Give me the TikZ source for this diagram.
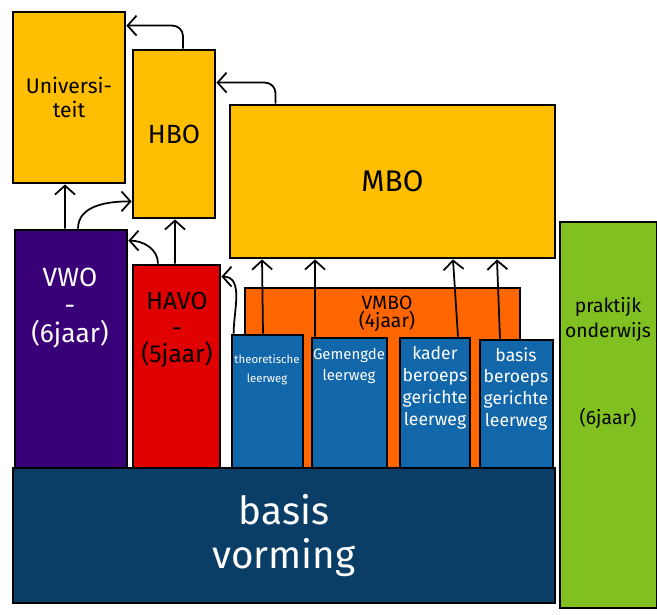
\documentclass[tikz,border=0pt]{standalone}
\usepackage{fontspec}
\setmainfont{Fira Sans}
\usetikzlibrary{arrows.meta}

\definecolor{geel}{RGB}{255,190,0}
\definecolor{paars}{RGB}{58,0,120}
\definecolor{rood}{RGB}{224,0,0}
\definecolor{oranje}{RGB}{255,102,0}
\definecolor{blauw}{RGB}{18,102,170}
\definecolor{donkerblauw}{RGB}{10,62,102}
\definecolor{groen}{RGB}{128,192,32}

\begin{document}
\begin{tikzpicture}[x=0.02cm, y=-0.02cm, % pixel grid of the sketch
	> = {Straight Barb[length=1.8mm,width=4mm]}, % open arrow head
	line width=1pt, % connector style
	vak/.style={draw=black,line width=1.6pt,inner sep=2pt,align=center},
	tekst/.style={align=center,inner sep=0pt},
	weg/.style={tekst,text=white,font=\fontsize{10}{12.5}\selectfont}]
	\useasboundingbox (0,0) rectangle (657,615);

	% upper schools
	\node[vak,fill=geel,minimum width=2.24cm,minimum height=3.42cm,
		font=\fontsize{12}{14}\selectfont] (uni) at (69,97.5) {Universi-\\teit};
	\node[vak,fill=geel,minimum width=1.64cm,minimum height=3.36cm,
		font=\fontsize{15}{18}\selectfont] (hbo) at (174,134) {HBO};
	\node[vak,fill=geel,minimum width=6.5cm,minimum height=3.06cm,
		font=\fontsize{17}{20}\selectfont] (mbo) at (392.5,181.5) {MBO};

	% secondary schools
	\node[vak,fill=paars,minimum width=2.24cm,minimum height=4.8cm] (vwo) at (71,350) {};
	\node[tekst,text=white,font=\fontsize{15}{16}\selectfont] (vwo-t) at (70,308) {VWO\\-\\(6jaar)};
	\node[vak,fill=rood,minimum width=1.74cm,minimum height=4.1cm] (havo) at (176.5,367.5) {};
	\node[tekst,font=\fontsize{14}{15}\selectfont] (havo-t) at (177,330) {HAVO\\-\\(5jaar)};
	\node[vak,fill=oranje,minimum width=5.5cm,minimum height=3.64cm] (vmbo) at (382.5,379) {};
	\node[tekst,font=\fontsize{11}{9}\selectfont] (vmbo-t) at (387,314) {VMBO\\(4jaar)};

	% the four ways through vmbo
	\node[vak,fill=blauw,minimum width=1.42cm,minimum height=2.7cm] (theo) at (267.5,402.5) {};
	\node[vak,fill=blauw,minimum width=1.5cm,minimum height=2.64cm] (gem) at (349.5,404) {};
	\node[vak,fill=blauw,minimum width=1.4cm,minimum height=2.64cm] (kader) at (435,404) {};
	\node[vak,fill=blauw,minimum width=1.46cm,minimum height=2.6cm] (basisb) at (516.5,405) {};
	\node[weg,font=\fontsize{6.5}{11}\selectfont] (theo-t) at (267,370) {theoretische\\leerweg};
	\node[weg,font=\fontsize{8.5}{12}\selectfont] (gem-t) at (349,366) {Gemengde\\leerweg};
	\node[weg] (kader-t) at (435,388) {kader\\beroeps\\gerichte\\leerweg};
	\node[weg] (basisb-t) at (516,389) {basis\\beroeps\\gerichte\\leerweg};

	% bottom and side
	\node[vak,fill=donkerblauw,minimum width=10.84cm,minimum height=2.7cm,text=white,
		font=\fontsize{22}{25}\selectfont] (basis) at (284,535.5) {basis\\vorming};
	\node[vak,fill=groen,minimum width=1.94cm,minimum height=7.72cm] (prakt) at (608.5,415) {};
	\node[tekst,font=\fontsize{11}{14}\selectfont] (prakt-t) at (608,363) {praktijk\\onderwijs\\[1.25cm](6jaar)};

	\draw[->,rounded corners=6pt] ([xshift=.18cm]hbo.north) |- ([yshift=-.3cm]uni.north east);
	\draw[->,rounded corners=6pt] ([xshift=-2.34cm]mbo.north) |- ([yshift=-.68cm]hbo.north east);
	\draw[->] ([xshift=-.12cm]vwo.north) -- ([xshift=-.08cm]uni.south);
	\draw[->] ([xshift=.14cm]vwo.north) to[out=90,in=180] ([yshift=.36cm]hbo.south west);
	\draw[->] ([xshift=-.37cm]havo.north) to[out=90,in=0] ([yshift=-.24cm]vwo.north east);
	\draw[->] ([xshift=-.03cm]havo.north) -- ([xshift=.02cm]hbo.south);
	\draw[->] ([xshift=.06cm]theo.north west) to[out=90,in=0] ([yshift=-.26cm]havo.north east);
	\draw[->] ([xshift=-.09cm]theo.north) -- ([xshift=-2.61cm]mbo.south);
	\draw[->] ([xshift=-.69cm]gem.north) -- ([xshift=-1.55cm]mbo.south);
	\draw[->] ([xshift=.46cm]kader.north) -- ([xshift=1.21cm]mbo.south);
	\draw[->] ([xshift=-.33cm]basisb.north) -- ([xshift=2.09cm]mbo.south);

\end{tikzpicture}
\end{document}
